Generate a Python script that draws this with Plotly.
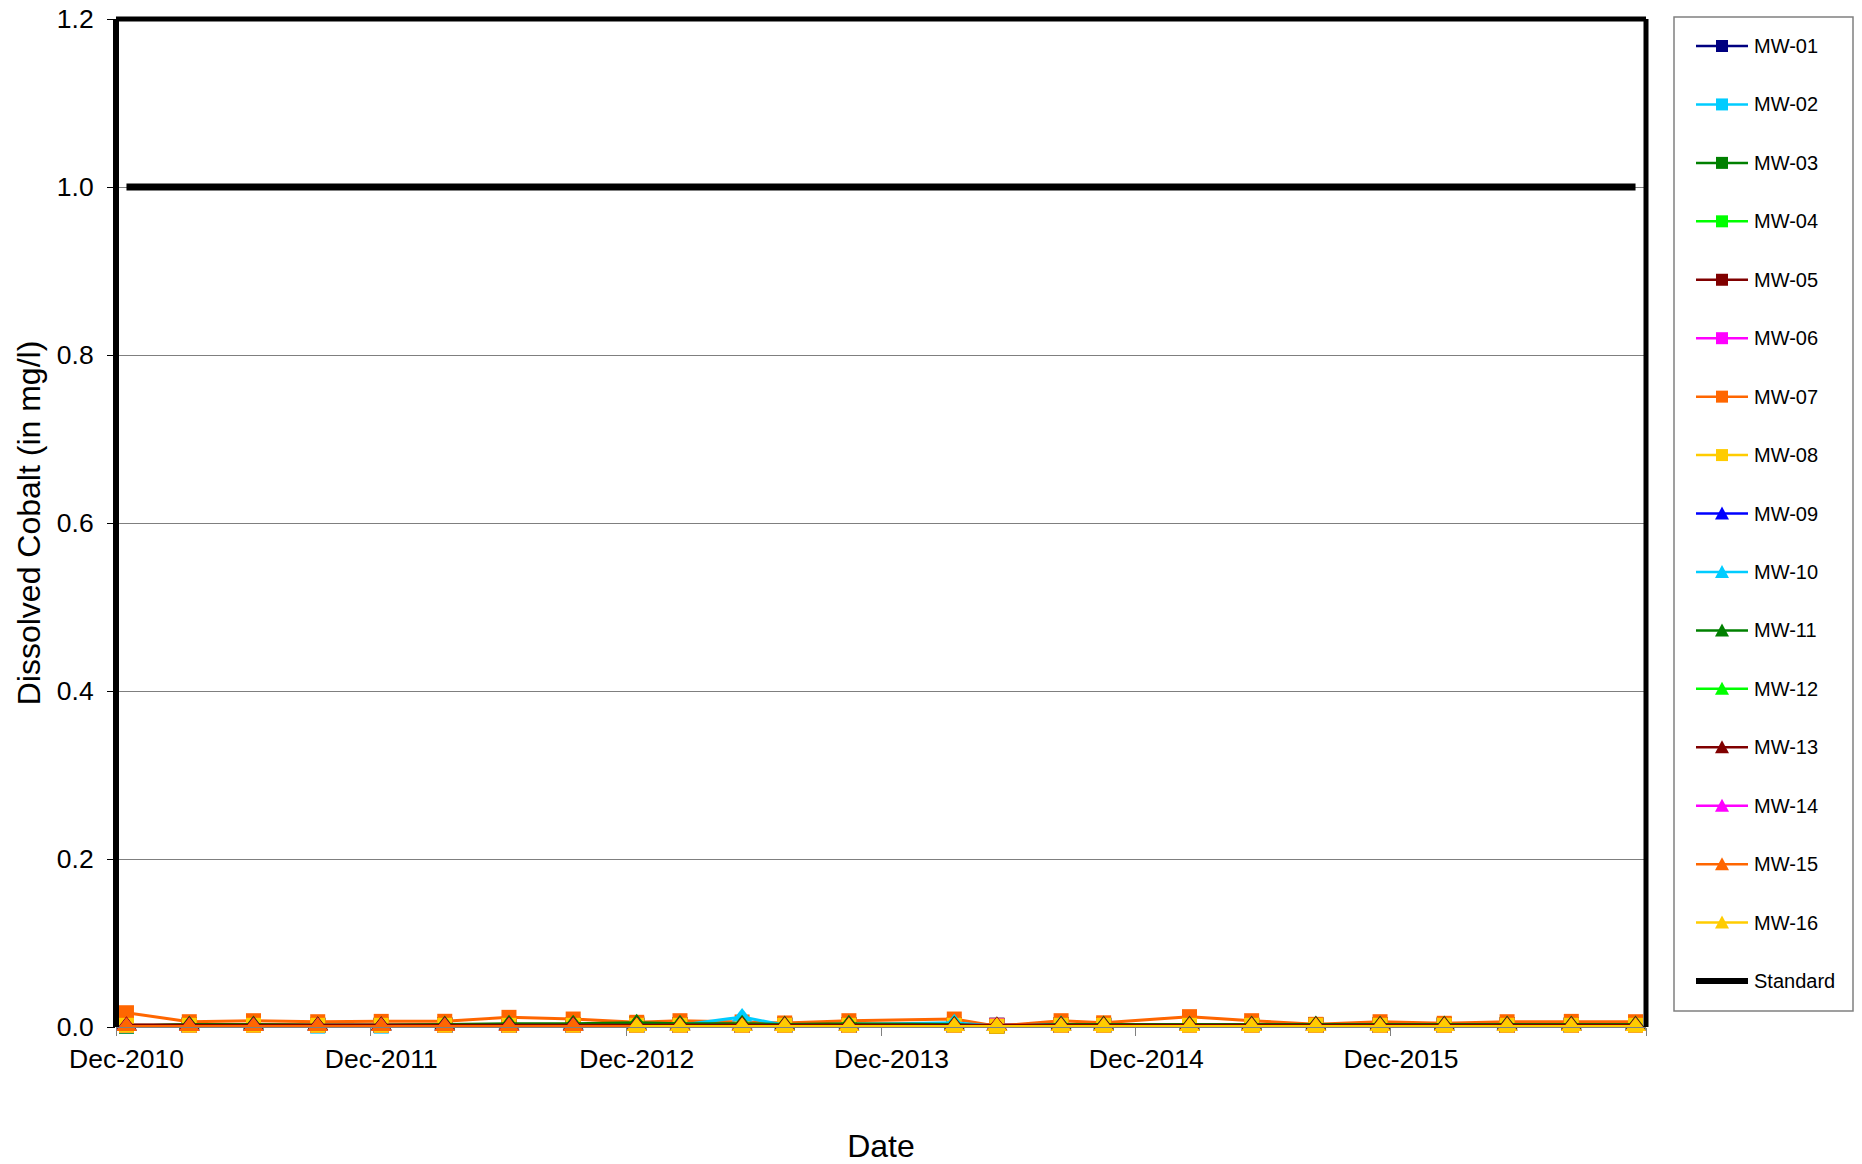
import plotly.graph_objects as go

# ---------------- data ----------------
dates = ["2010-12", "2011-03", "2011-06", "2011-09", "2011-12", "2012-03", "2012-06",
         "2012-09", "2012-12", "2013-02", "2013-05", "2013-07", "2013-10", "2014-03",
         "2014-05", "2014-08", "2014-10", "2015-02", "2015-05", "2015-08", "2015-11",
         "2016-02", "2016-05", "2016-08", "2016-11"]

mw01 = [0.002] * 25
mw02 = [0.001, 0.002, 0.002, 0.001, 0.001, 0.002, 0.002, 0.002, 0.002, 0.002, 0.002, 0.002, 0.002,
        0.002, 0.001, 0.002, 0.002, 0.002, 0.002, 0.002, 0.002, 0.002, 0.002, 0.002, 0.002]
mw03 = [0.001, 0.003, 0.003, 0.002, 0.002, 0.003, 0.003, 0.003, 0.004, 0.003, 0.003, 0.003, 0.003,
        0.003, 0.001, 0.003, 0.003, 0.003, 0.003, 0.003, 0.003, 0.003, 0.003, 0.003, 0.003]
mw04 = [0.002] * 25
mw05 = [0.002] * 25
mw06 = [0.002] * 25
mw07 = [0.017, 0.0063, 0.0075, 0.0063, 0.0067, 0.0068, 0.0115, 0.0095, 0.0056, 0.0075, 0.006,
        0.0048, 0.0075, 0.0095, 0.001, 0.0075, 0.005, 0.0123, 0.0075, 0.0032, 0.0063, 0.0044,
        0.0063, 0.0067, 0.0063]
mw08 = [0.002, 0.002, 0.002, 0.002, 0.002, 0.002, 0.002, 0.002, 0.002, 0.002, 0.002, 0.002, 0.002,
        0.002, 0.001, 0.002, 0.002, 0.002, 0.002, 0.002, 0.002, 0.002, 0.002, 0.002, 0.002]
mw09 = [0.0005] * 25
mw10 = [0.001, 0.002, 0.002, 0.001, 0.001, 0.002, 0.002, 0.002, 0.003, 0.002, 0.012, 0.002, 0.003,
        0.005, 0.001, 0.003, 0.002, 0.002, 0.002, 0.002, 0.002, 0.002, 0.002, 0.002, 0.002]
mw11 = [0.001, 0.003, 0.003, 0.002, 0.002, 0.003, 0.004, 0.004, 0.005, 0.004, 0.004, 0.003, 0.004,
        0.003, 0.001, 0.003, 0.003, 0.003, 0.003, 0.003, 0.003, 0.003, 0.003, 0.003, 0.003]
mw12 = [0.0005] * 25
mw13 = [0.002] * 25
mw14 = [0.0005] * 25
mw15 = [0.0005] * 25
mw16 = [None] * 8 + [0.0005] * 17
standard = [1.0] * 25

series_names = ["MW-01", "MW-02", "MW-03", "MW-04", "MW-05", "MW-06", "MW-07", "MW-08",
                "MW-09", "MW-10", "MW-11", "MW-12", "MW-13", "MW-14", "MW-15", "MW-16"]
series_values = [mw01, mw02, mw03, mw04, mw05, mw06, mw07, mw08,
                 mw09, mw10, mw11, mw12, mw13, mw14, mw15, mw16]
series_colors = ["#000080", "#00CCFF", "#008000", "#00FF00", "#800000", "#FF00FF", "#FF6600", "#FFCC00",
                 "#0000FF", "#00CCFF", "#008000", "#00FF00", "#800000", "#FF00FF", "#FF6600", "#FFCC00"]
series_symbols = ["square"] * 8 + ["triangle-up"] * 8

tick_years = [2010, 2011, 2012, 2013, 2014, 2015]
y_ticks = [0.0, 0.2, 0.4, 0.6, 0.8, 1.0, 1.2]

# month-slot centres (Excel date axis with month base unit)
x = [d + "-16" for d in dates]

FONT = "Liberation Sans, Arial, sans-serif"

# plot area in page pixels (body margin removed by post_script)
PL, PR, PT, PB = 116, 1646, 19, 1027
PW, PH = PR - PL, PB - PT


def px2x(px):
    return (px - PL) / PW


def py2y(py):
    return (PB - py) / PH


fig = go.Figure()
for name, vals, col, sym in zip(series_names, series_values, series_colors, series_symbols):
    fig.add_trace(go.Scatter(
        x=x, y=vals, name=name, mode="lines+markers",
        line=dict(color=col, width=3),
        marker=dict(symbol=sym, size=15 if sym == "square" else 18, color=col,
                    line=dict(color=col, width=0)),
        cliponaxis=False, connectgaps=True, showlegend=False,
    ))

fig.add_trace(go.Scatter(
    x=x, y=standard, name="Standard", mode="lines",
    line=dict(color="black", width=7), cliponaxis=False, showlegend=False,
))

shapes = [
    dict(type="line", xref="paper", yref="paper", x0=0, x1=0, y0=0, y1=1,
         line=dict(color="black", width=6)),
    dict(type="line", xref="paper", yref="paper", x0=0, x1=1, y0=1, y1=1,
         line=dict(color="black", width=5)),
    dict(type="line", xref="paper", yref="paper", x0=1, x1=1, y0=0, y1=1,
         line=dict(color="black", width=5)),
    # legend frame
    dict(type="rect", xref="paper", yref="paper",
         x0=px2x(1674), x1=px2x(1853), y0=py2y(1011), y1=py2y(17),
         line=dict(color="#808080", width=1.5), fillcolor="white", layer="below"),
]
annotations = []

# ---- legend (drawn manually to match Excel layout) ----
LEG_Y0, LEG_DY = 46, 58.44
LX0, LX1, LXM, LTX = 1696, 1748, 1722, 1752
legend_names = series_names + ["Standard"]
for i, name in enumerate(legend_names):
    cy = LEG_Y0 + i * LEG_DY
    if name == "Standard":
        shapes.append(dict(type="line", xref="paper", yref="paper",
                           x0=px2x(LX0), x1=px2x(LX1), y0=py2y(cy), y1=py2y(cy),
                           line=dict(color="black", width=6)))
    else:
        col = series_colors[i]
        sym = series_symbols[i]
        shapes.append(dict(type="line", xref="paper", yref="paper",
                           x0=px2x(LX0), x1=px2x(LX1), y0=py2y(cy), y1=py2y(cy),
                           line=dict(color=col, width=2.5)))
        if sym == "square":
            h = 6
            shapes.append(dict(type="rect", xref="paper", yref="paper",
                               x0=px2x(LXM - h), x1=px2x(LXM + h),
                               y0=py2y(cy + h), y1=py2y(cy - h),
                               line=dict(width=0), fillcolor=col))
        else:
            path = (f"M {px2x(LXM - 7)} {py2y(cy + 6)} L {px2x(LXM + 7)} {py2y(cy + 6)} "
                    f"L {px2x(LXM)} {py2y(cy - 7)} Z")
            shapes.append(dict(type="path", xref="paper", yref="paper", path=path,
                               line=dict(width=0), fillcolor=col))
    annotations.append(dict(xref="paper", yref="paper", x=px2x(LTX), y=py2y(cy),
                            xanchor="left", yanchor="middle", text=name, showarrow=False,
                            font=dict(size=20, family=FONT, color="black")))

fig.update_layout(
    width=1862, height=1164,
    margin=dict(l=PL, r=1862 - PR, t=PT, b=1164 - PB, autoexpand=False),
    paper_bgcolor="white", plot_bgcolor="white",
    font=dict(family=FONT, color="black"),
    showlegend=False,
    xaxis=dict(
        type="date", range=["2010-12-01", "2016-12-01"],
        tickvals=[f"{y}-12-16" for y in tick_years],
        ticktext=[f"Dec-{y}" for y in tick_years],
        ticks="outside", ticklen=8, tickcolor="rgba(0,0,0,0)",
        tickfont=dict(size=26.5, family=FONT),
        showgrid=False, zeroline=False,
        showline=True, linecolor="#808080", linewidth=1,
        minor=dict(tickvals=[f"{y}-12-01" for y in tick_years + [2016]],
                   ticks="outside", ticklen=8, tickcolor="#808080", showgrid=False),
        title=dict(text="Date", font=dict(size=32, family=FONT), standoff=64),
    ),
    yaxis=dict(
        range=[0, 1.2], tickvals=y_ticks, ticktext=[f"{v:.1f}" for v in y_ticks],
        ticks="outside", ticklen=8, tickcolor="black",
        tickfont=dict(size=26.5, family=FONT),
        ticklabeloverflow="allow",
        showgrid=True, gridcolor="#7f7f7f", gridwidth=1,
        zeroline=False, showline=False,
        ticklabelstandoff=8,
        title=dict(text="Dissolved Cobalt (in mg/l)", font=dict(size=32, family=FONT), standoff=6),
    ),
    shapes=shapes,
    annotations=annotations,
)

fig.write_html("out.html", config={"displayModeBar": False},
               post_script="document.body.style.margin='0px';")
